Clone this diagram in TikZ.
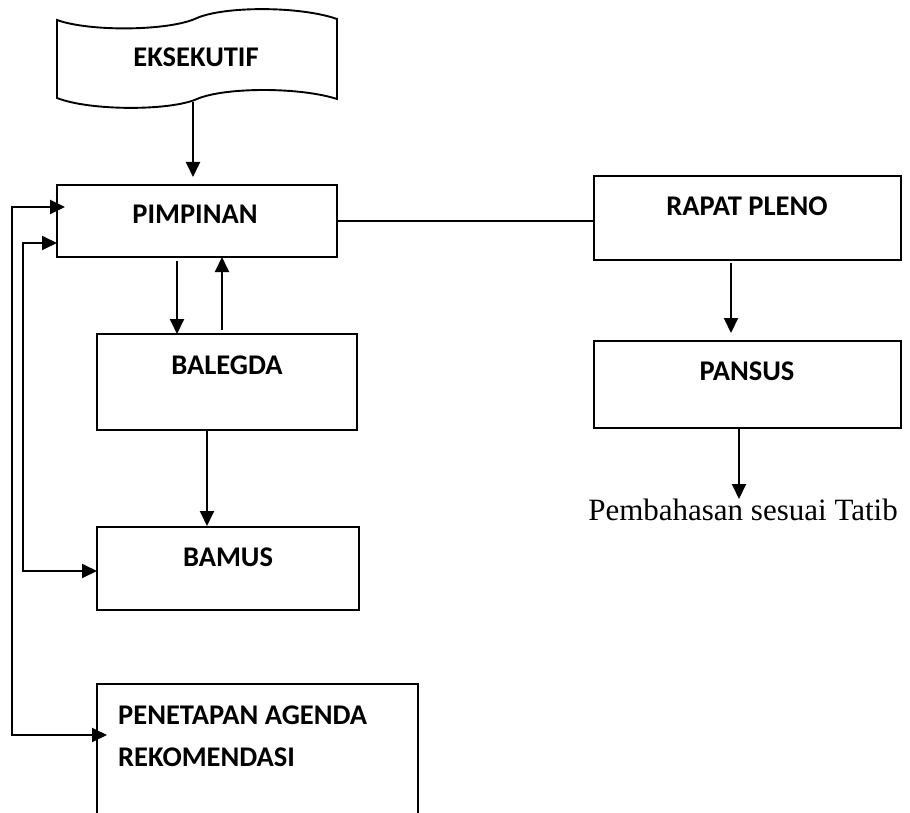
\documentclass[tikz,border=0pt]{standalone}
\usepackage{fontspec}
\setmainfont{Carlito}
\newfontfamily\tnr{Liberation Serif}
\usetikzlibrary{arrows.meta}
\begin{document}
\begin{tikzpicture}[x=1pt,y=-1pt,
  box/.style={draw,line width=1.9pt,rectangle,anchor=north west,inner sep=0pt,outer sep=0pt},
  lbl/.style={font=\fontsize{28.5}{34}\selectfont\bfseries,anchor=base,inner sep=0pt},
  conn/.style={line width=1.9pt},
  arr/.style={conn,-{Triangle[length=15pt,width=14pt]}},
  darr/.style={conn,{Triangle[length=15pt,width=14pt]}-{Triangle[length=15pt,width=14pt]}}]
\clip (0,0) rectangle (910,813);
\useasboundingbox (0,0) rectangle (910,813);
% tape shape
\draw[line width=1.9pt] (57,20) .. controls (90,32) and (170,31) .. (197,18)
  .. controls (225,6) and (300,6) .. (337,19) -- (337,99)
  .. controls (300,87) and (225,87) .. (197,99)
  .. controls (170,111) and (90,111) .. (57,98) -- cycle;
\node[lbl] (eks) at (196,67) {EKSEKUTIF};
\coordinate (eksb) at (193,102);
% boxes
\node[box,minimum width=280pt,minimum height=72pt] (pim) at (57,185) {};
\node[box,minimum width=307pt,minimum height=84pt] (rap) at (594,176) {};
\node[box,minimum width=307pt,minimum height=87pt] (pan) at (594,341) {};
\node[box,minimum width=260pt,minimum height=96pt] (bal) at (97,334) {};
\node[box,minimum width=262pt,minimum height=83pt] (bam) at (97,527) {};
\node[box,minimum width=321pt,minimum height=180pt] (pen) at (97,684) {};
% labels
\node[lbl] (pimt) at (195,224) {PIMPINAN};
\node[lbl] (rapt) at (747,215) {RAPAT PLENO};
\node[lbl] (pant) at (747,380) {PANSUS};
\node[lbl] (balt) at (227,374) {BALEGDA};
\node[lbl] (bamt) at (228,566) {BAMUS};
\node[lbl,anchor=base west] (pen1) at (118,724) {PENETAPAN AGENDA};
\node[lbl,anchor=base west] (pen2) at (118,766) {REKOMENDASI};
\node[font=\tnr\fontsize{31}{37}\selectfont,anchor=base,inner sep=0pt] (tatib) at (743,520) {Pembahasan sesuai Tatib};
% connectors
\draw[arr,shorten >=8pt] (eksb) -- (eksb |- pim.north);
\draw[conn] (pim.east) -- (rap.west |- pim.east);
\draw[arr,shorten <=4pt] (pim.south -| 177,0) -- (bal.north -| 177,0);
\draw[arr,shorten <=4pt] (bal.north -| 222,0) -- (pim.south -| 222,0);
\draw[arr,shorten >=1pt] (bal.south -| 207,0) -- (bam.north -| 207,0);
\draw[arr,shorten <=3pt,shorten >=8pt] (rap.south -| 731,0) -- (pan.north -| 731,0);
\draw[arr] (pan.south -| 739,0) -- (739,499);
\draw[darr,shorten <=-8pt,shorten >=-10pt] (pim.west |- 0,207) -- (12,207) -- (12,735) -- (pen.west |- 0,735);
\draw[darr] (pim.west |- 0,243) -- (23,243) -- (23,571) -- (bam.west |- 0,571);
\end{tikzpicture}
\end{document}
